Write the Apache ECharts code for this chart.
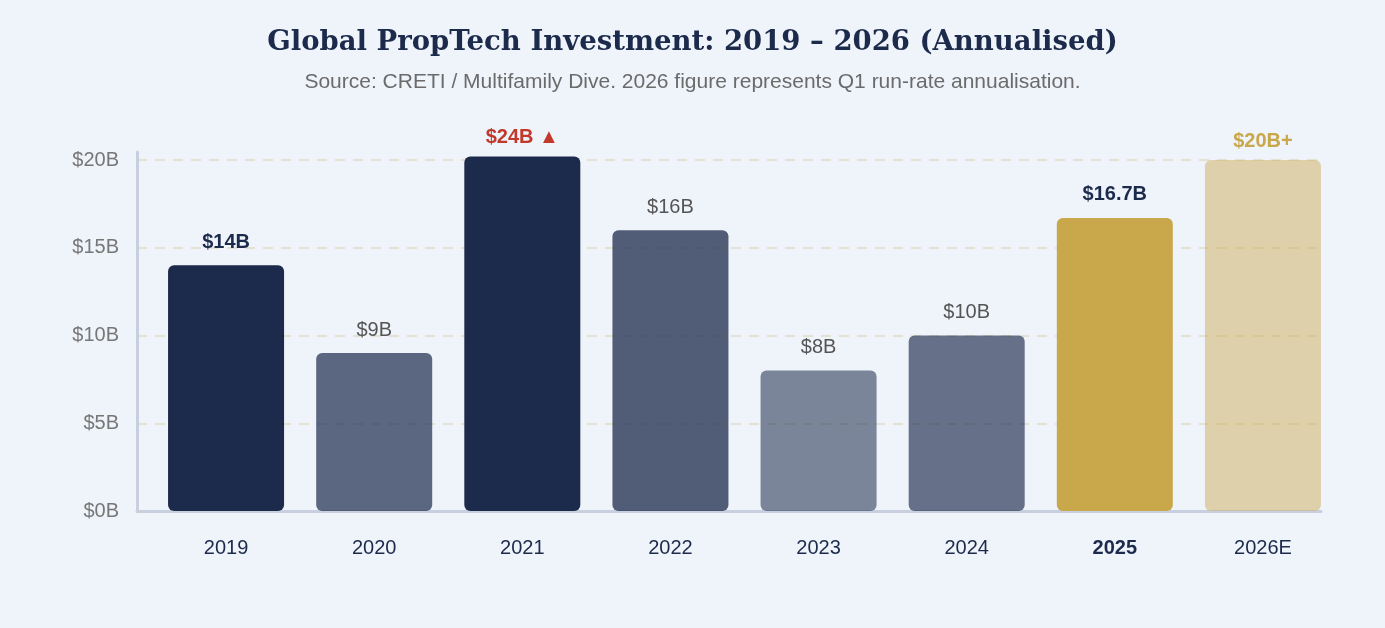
<!DOCTYPE html>
<html>
<head>
<meta charset="utf-8">
<script src="https://cdn.jsdelivr.net/npm/echarts@6/dist/echarts.min.js"></script>
<style>
  html, body { margin: 0; padding: 0; background: #eff3fa; }
  #main { width: 1385px; height: 628px; }
</style>
</head>
<body>
<div id="main"></div>
<script>
// data
var years = ['2019', '2020', '2021', '2022', '2023', '2024', '2025', '2026E'];
var values = [14, 9, 20.2, 16, 8, 10, 16.7, 20];   // 2021 ($24B) is drawn capped just over the top
var valueLabels = ['$14B', '$9B', '$24B ▲', '$16B', '$8B', '$10B', '$16.7B', '$20B+'];
var yMin = 0, yMax = 20, yStep = 5;

// navy / gold at different opacities, the gridlines show through the lighter ones
var barColors = [
  'rgba(28,42,75,1)', 'rgba(28,42,75,0.7)', 'rgba(28,42,75,1)', 'rgba(28,42,75,0.75)',
  'rgba(28,42,75,0.55)', 'rgba(28,42,75,0.65)', 'rgba(201,168,76,1)', 'rgba(201,168,76,0.46)'
];
var labelColors = ['#1c2a4b', '#555555', '#c0392b', '#555555', '#555555', '#555555', '#1c2a4b', '#c9a84c'];
var labelBold = [true, false, true, false, false, false, true, true];

var SANS = 'Arial, "Liberation Sans", sans-serif';
var myChart = echarts.init(document.getElementById('main'));

// the axis frame sits 15px left of the bars, so it gets its own grid
var pxPerUnit = (628 - 117 - 160) / yMax;
var frameMax = yMax + 8 / pxPerUnit;

var option = {
  backgroundColor: '#eff3fa',
  animation: false,
  title: {
    text: 'Global PropTech Investment: 2019 \u2013 2026 (Annualised)',
    subtext: 'Source: CRETI / Multifamily Dive. 2026 figure represents Q1 run-rate annualisation.',
    left: 'center',
    top: 24,
    itemGap: 15,
    textStyle: {
      fontFamily: 'Georgia, "DejaVu Serif", serif',
      fontSize: 27.5,
      fontWeight: 'bold',
      color: '#1c2a4b'
    },
    subtextStyle: { fontFamily: SANS, fontSize: 21, color: '#6b6b6b' }
  },
  grid: [
    { left: 137, right: 64, top: 152, bottom: 117 },
    { left: 152, right: 48, top: 160, bottom: 117 }
  ],
  xAxis: [
    {
      type: 'category', gridIndex: 0, data: years,
      axisLine: { lineStyle: { color: '#c8cfdf', width: 3 } },
      axisTick: { show: false }, axisLabel: { show: false }
    },
    {
      type: 'category', gridIndex: 1, data: years,
      axisLine: { show: false }, axisTick: { show: false },
      axisLabel: {
        margin: 27, fontFamily: SANS, fontSize: 20, color: '#1c2a4b',
        formatter: function (v) { return v === '2025' ? '{b|' + v + '}' : v; },
        rich: { b: { fontWeight: 'bold', fontSize: 20, color: '#1c2a4b', fontFamily: SANS } }
      }
    }
  ],
  yAxis: [
    {
      type: 'value', gridIndex: 0, min: yMin, max: frameMax, interval: yStep,
      axisLine: { show: true, lineStyle: { color: '#c8cfdf', width: 3 } },
      axisTick: { show: false },
      axisLabel: {
        margin: 18, fontFamily: SANS, fontSize: 20, color: '#777777',
        showMaxLabel: false,
        formatter: function (v) { return '$' + v + 'B'; }
      },
      splitLine: { showMaxLine: false, lineStyle: { color: 'rgba(201,168,76,0.3)', type: [10, 8], width: 1.5 } }
    },
    {
      type: 'value', gridIndex: 1, min: yMin, max: yMax, interval: yStep,
      axisLine: { show: false }, axisTick: { show: false },
      axisLabel: { show: false }, splitLine: { show: false }
    }
  ],
  series: [{
    type: 'bar',
    xAxisIndex: 1,
    yAxisIndex: 1,
    barWidth: 116,
    clip: false,
    data: values.map(function (v, i) {
      return {
        value: v,
        itemStyle: { color: barColors[i], borderRadius: 6 },
        label: {
          show: true,
          position: 'top',
          distance: (i === 2 || i === 7) ? 9 : 13,
          formatter: valueLabels[i],
          fontFamily: SANS,
          fontSize: 20,
          color: labelColors[i],
          fontWeight: labelBold[i] ? 'bold' : 'normal'
        }
      };
    })
  }]
};

myChart.setOption(option);
</script>
</body>
</html>
